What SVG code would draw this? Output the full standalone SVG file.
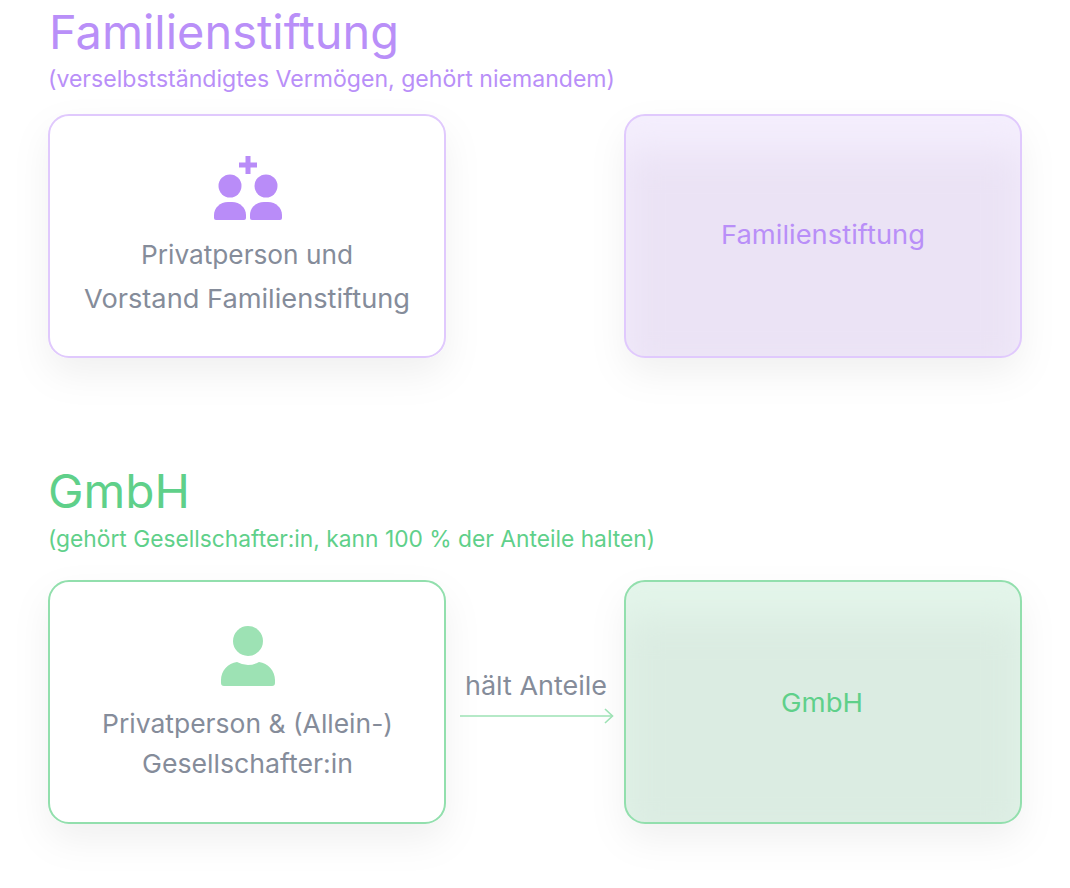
<svg xmlns="http://www.w3.org/2000/svg" width="1070" height="888" viewBox="0 0 1070 888">
<style>
text{font-family:"Inter","Noto Sans","Liberation Sans",sans-serif;font-weight:400}
.pt{fill:#b98ff8}.gt{fill:#5fd08a}.gr{fill:#858c9a}
.h1{font-size:47px}.sub{font-size:23px}.lbl{font-size:26px}
.mid{text-anchor:middle}
.cp{stroke:#e0c9fd;stroke-width:2}.cg{stroke:#92dfad;stroke-width:2}
</style>
<defs>
<filter id="sh" x="-25%" y="-30%" width="150%" height="170%"><feDropShadow dx="0" dy="16" stdDeviation="18" flood-color="#000" flood-opacity="0.06"/></filter>
<filter id="bl" x="-25%" y="-25%" width="150%" height="150%"><feGaussianBlur stdDeviation="18"/></filter>
<clipPath id="c1"><rect x="625" y="115" width="396" height="242" rx="20"/></clipPath>
<clipPath id="c2"><rect x="625" y="581" width="396" height="242" rx="20"/></clipPath>
<marker id="ar" markerUnits="userSpaceOnUse" markerWidth="12" markerHeight="18" refX="9.5" refY="9" orient="auto"><path d="M2 2L9.5 9L2 16" fill="none" stroke="#9de2b4" stroke-width="1.6"/></marker>
</defs>

<g id="title-stiftung">
<text class="pt h1" x="49" y="49" textLength="350" lengthAdjust="spacingAndGlyphs">Familienstiftung</text>
<text class="pt sub" x="48" y="87" textLength="567" lengthAdjust="spacingAndGlyphs">(verselbstständigtes Vermögen, gehört niemandem)</text>
</g>

<g id="node-privatperson-vorstand">
<rect x="49" y="115" width="396" height="242" rx="20" fill="#fff" class="cp" filter="url(#sh)"/>
<path fill="#b98cf8" d="M245.500 156h5v6.500h6.500v5h-6.500v6.500h-5v-6.500h-6.500v-5h6.500z"/>
<circle cx="230" cy="186" r="11.500" fill="#b98cf8"/>
<circle cx="266" cy="186" r="11.500" fill="#b98cf8"/>
<path fill="#b98cf8" d="M214 218V215C214 208 220 202 228 202H232C240 202 246 208 246 215V218Q246 220 244 220H216Q214 220 214 218Z"/>
<path fill="#b98cf8" d="M250 218V215C250 208 256 202 264 202H268C276 202 282 208 282 215V218Q282 220 280 220H252Q250 220 250 218Z"/>
<text class="gr lbl mid" x="247" y="264" textLength="212" lengthAdjust="spacingAndGlyphs">Privatperson und</text>
<text class="gr lbl mid" x="247" y="308" textLength="326" lengthAdjust="spacingAndGlyphs">Vorstand Familienstiftung</text>
</g>

<g id="node-familienstiftung">
<rect x="625" y="115" width="396" height="242" rx="20" fill="#f4eefd" filter="url(#sh)"/>
<g clip-path="url(#c1)"><rect x="622" y="150" width="402" height="225" fill="#ebe3f5" filter="url(#bl)"/></g>
<rect x="625" y="115" width="396" height="242" rx="20" fill="none" class="cp"/>
<text class="pt lbl mid" x="823" y="244" textLength="204" lengthAdjust="spacingAndGlyphs">Familienstiftung</text>
</g>

<g id="title-gmbh">
<text class="gt h1" x="48" y="508" textLength="142" lengthAdjust="spacingAndGlyphs">GmbH</text>
<text class="gt sub" x="48" y="547" textLength="607" lengthAdjust="spacingAndGlyphs">(gehört Gesellschafter:in, kann 100 % der Anteile halten)</text>
</g>

<g id="node-privatperson-gesellschafter">
<rect x="49" y="581" width="396" height="242" rx="20" fill="#fff" class="cg" filter="url(#sh)"/>
<circle cx="248" cy="641" r="15" fill="#9de2b4"/>
<path fill="#9de2b4" d="M221 683V680C221 671 228 663 237 662Q248 668 259 662C268 663 275 671 275 680V683Q275 686 272 686H224Q221 686 221 683Z"/>
<text class="gr lbl mid" x="247.500" y="733" textLength="291" lengthAdjust="spacingAndGlyphs">Privatperson &amp; (Allein-)</text>
<text class="gr lbl mid" x="247.500" y="773" textLength="211" lengthAdjust="spacingAndGlyphs">Gesellschafter:in</text>
</g>

<g id="node-gmbh">
<rect x="625" y="581" width="396" height="242" rx="20" fill="#e3f5ea" filter="url(#sh)"/>
<g clip-path="url(#c2)"><rect x="622" y="616" width="402" height="225" fill="#dbece2" filter="url(#bl)"/></g>
<rect x="625" y="581" width="396" height="242" rx="20" fill="none" class="cg"/>
<text class="gt lbl mid" x="822" y="712" textLength="82" lengthAdjust="spacingAndGlyphs">GmbH</text>
</g>

<g id="connectors">
<line x1="460" y1="716" x2="612.500" y2="716" stroke="#9de2b4" stroke-width="1.600" marker-end="url(#ar)"/>
<text class="gr lbl mid" x="536" y="695" textLength="142" lengthAdjust="spacingAndGlyphs">hält Anteile</text>
</g>
</svg>
